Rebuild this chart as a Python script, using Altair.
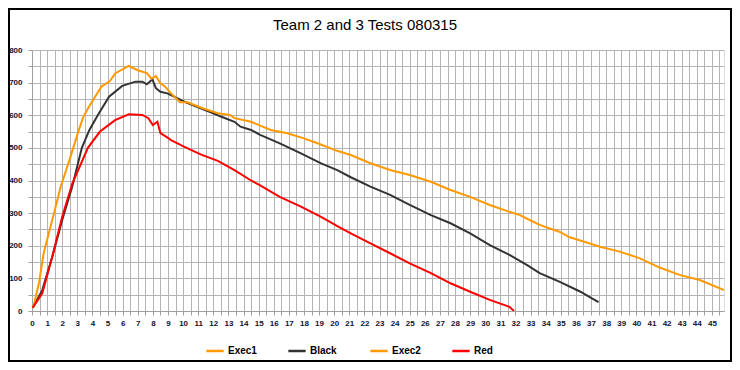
import altair as alt
import pandas as pd

chart_title = "Team 2 and 3 Tests 080315"
series_names = ["Exec1", "Black", "Exec2", "Red"]
series_colors = ["#FF9900", "#333333", "#FF9900", "#FF0000"]

exec2_x = [0.05, 0.13, 0.46, 0.79, 1.34, 1.9, 2.55, 3.1, 3.4, 3.76, 4.6, 5.16, 5.5, 6.4, 7.0, 7.6, 7.9, 8.2,
           8.5, 8.8, 9.2, 9.8, 10.3, 11.2, 12.3, 13.1, 13.4, 14.5, 15.8, 16.9, 18.0, 18.9, 20.2,
           21.1, 22.4, 23.7, 25.0, 26.4, 27.7, 29.0, 30.3, 31.6, 32.3, 32.8, 33.6, 34.9, 35.6,
           37.6, 38.9, 40.2, 41.5, 42.9, 44.2, 45.8]
exec2_y = [10, 20, 86, 181, 279, 381, 473, 555, 595, 625, 688, 705, 728, 751, 738, 729, 712, 720,
           698, 688, 667, 640, 640, 623, 606, 601, 591, 580, 555, 545, 529, 514, 491,
           478, 453, 432, 417, 396, 371, 350, 325, 304, 294, 282, 264, 243, 226,
           197, 182, 162, 134, 110, 95, 64]

black_x = [0.05, 0.68, 1.34, 2.0, 2.66, 3.3, 3.8, 4.35, 5.1, 5.97, 6.85, 7.3, 7.6, 7.97, 8.2, 8.5,
           8.96, 9.84, 10.3, 11.16, 12.0, 12.5, 13.4, 13.8, 14.5, 15.1, 16.4, 17.8, 19.1, 20.2,
           21.1, 22.4, 23.7, 25.0, 26.4, 27.7, 29.0, 30.3, 31.6, 32.8, 33.6, 34.9, 36.3, 37.0, 37.5]
black_y = [10, 64, 166, 279, 381, 500, 555, 600, 657, 690, 703, 703, 695, 710, 683, 672,
           667, 647, 637, 621, 606, 596, 580, 565, 555, 540, 514, 483, 453, 432,
           410, 381, 356, 325, 294, 269, 238, 202, 172, 140, 116, 90, 59, 40, 27]

red_x = [0.05, 0.68, 1.34, 2.0, 2.66, 3.7, 4.5, 5.5, 6.4, 7.3, 7.7, 8.0, 8.3, 8.5, 9.05,
         9.2, 10.06, 11.16, 12.3, 13.4, 14.5, 15.1, 16.4, 17.8, 19.1, 20.3, 21.1, 22.4, 23.7,
         25.0, 26.4, 27.7, 29.0, 30.3, 31.6, 31.9]
red_y = [10, 54, 166, 289, 390, 500, 550, 585, 603, 601, 591, 570, 580, 545, 529,
         524, 504, 480, 460, 432, 400, 385, 350, 320, 289, 258, 238, 207, 177,
         146, 116, 85, 59, 34, 13, 0]

x_grid_values = [i * 0.5 for i in range(92)]
y_grid_values = list(range(0, 801, 50))

rows = []
for name, xs, ys in [("Black", black_x, black_y), ("Exec2", exec2_x, exec2_y), ("Red", red_x, red_y)]:
    for i, (a, b) in enumerate(zip(xs, ys)):
        rows.append({"series": name, "x": a, "y": b, "i": i})
df = pd.DataFrame(rows)

W, H = 692, 261
PAD = {"left": 24, "top": 42, "right": 8, "bottom": 51}

lines = alt.Chart(df).mark_line(strokeWidth=2, clip=True).encode(
    x=alt.X("x:Q",
            scale=alt.Scale(domain=[0, 45.8], nice=False, zero=False),
            axis=alt.Axis(values=x_grid_values, title=None,
                          labelExpr="datum.value % 1 === 0 ? format(datum.value, 'd') : ''",
                          grid=True, gridColor="#b4b4b4", gridWidth=1,
                          domainColor="#a0a0a0", tickColor="#a0a0a0", tickSize=4,
                          labelFont="Liberation Sans", labelFontSize=8, labelFontWeight="bold",
                          labelColor="#111133", labelPadding=4, labelFlush=False,
                          labelOverlap=False)),
    y=alt.Y("y:Q",
            scale=alt.Scale(domain=[0, 800], nice=False),
            axis=alt.Axis(values=y_grid_values, title=None,
                          labelExpr="datum.value % 100 === 0 ? format(datum.value, 'd') : ''",
                          grid=True, gridColor="#b4b4b4", gridWidth=1,
                          domainColor="#a0a0a0", tickColor="#a0a0a0", tickSize=4,
                          labelFont="Liberation Sans", labelFontSize=8, labelFontWeight="bold",
                          labelColor="#111133", labelPadding=6, labelOverlap=False)),
    color=alt.Color("series:N",
                    scale=alt.Scale(domain=series_names, range=series_colors),
                    legend=alt.Legend(title=None, orient="none", direction="horizontal",
                                      legendX=173, legendY=291, columns=4,
                                      symbolType="stroke", symbolStrokeWidth=2.5, symbolSize=300,
                                      gridAlign="all", columnPadding=26, labelOffset=3,
                                      labelFont="Liberation Sans", labelFontSize=10,
                                      labelFontWeight="bold", labelColor="#000000")),
    order="i:Q",
)

border = alt.Chart(pd.DataFrame({"a": [0]})).mark_rect(
    fillOpacity=0, stroke="#000000", strokeWidth=2, clip=False
).encode(
    x=alt.value(-PAD["left"] + 1), y=alt.value(-PAD["top"] + 1),
    x2=alt.value(W + PAD["right"] - 1), y2=alt.value(H + PAD["bottom"] - 1),
)

title = alt.Chart(pd.DataFrame({"t": [chart_title]})).mark_text(
    font="Liberation Sans Narrow, Arial Narrow, Liberation Sans", fontSize=15,
    color="#000000", align="center", baseline="middle", clip=False
).encode(text="t:N", x=alt.value(333), y=alt.value(-25))

chart = alt.layer(border, lines, title).properties(
    width=W, height=H, padding=PAD, autosize="none",
).configure_view(stroke="#a0a0a0").configure(background="white")

chart.save("out.html", embed_options={"renderer": "svg", "actions": False})
